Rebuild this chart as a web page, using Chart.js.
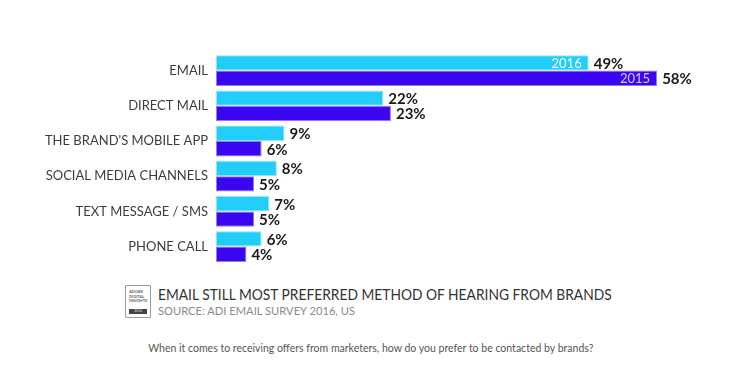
<!DOCTYPE html>
<html>
<head>
<meta charset="utf-8">
<script src="https://cdn.jsdelivr.net/npm/chart.js@4.4.1/dist/chart.umd.min.js"></script>
<style>
  html, body { margin: 0; padding: 0; background: #fff; }
  body { width: 742px; height: 385px; position: relative; overflow: hidden; font-family: Lato, "Noto Sans", sans-serif; }
  #wrap { position: absolute; left: 0; top: 0; width: 742px; height: 280px; }
  .t { position: absolute; white-space: nowrap; }
  #title { left: 158px; top: 285px; font-size: 15.5px; color: #333; transform: scaleX(0.89); transform-origin: 0 0; }
  #source { left: 158px; top: 303px; font-size: 12px; color: #8a8a8a; transform: scaleX(0.93); transform-origin: 0 0; }
  #foot { left: 0; width: 742px; text-align: center; top: 341px; font-size: 11.5px; color: #555; transform: scaleX(0.915); transform-origin: 369px 0; }
  #logo { position: absolute; left: 125px; top: 285px; width: 24px; height: 31px; border: 1px solid #9a9a9a; border-radius: 1px; background: #fff; }
  #logo .lt { position: absolute; left: 3px; top: 4px; font-size: 4px; line-height: 4.5px; color: #666; font-weight: bold; }
  #logo .band { position: absolute; left: 3px; right: 3px; bottom: 3px; height: 5px; background: #444; color: #ddd; font-size: 3.5px; line-height: 5px; text-align: center; }
</style>
</head>
<body>
<div id="wrap"><canvas id="c"></canvas></div>
<div id="logo"><div class="lt">ADOBE<br>DIGITAL<br>INSIGHTS</div><div class="band">2016</div></div>
<div class="t" id="title">EMAIL STILL MOST PREFERRED METHOD OF HEARING FROM BRANDS</div>
<div class="t" id="source">SOURCE: ADI EMAIL SURVEY 2016, US</div>
<div class="t" id="foot">When it comes to receiving offers from marketers, how do you prefer to be contacted by brands?</div>
<script>
const categories = ["EMAIL", "DIRECT MAIL", "THE BRAND'S MOBILE APP", "SOCIAL MEDIA CHANNELS", "TEXT MESSAGE / SMS", "PHONE CALL"];
const seriesNames = ["2016", "2015"];
const values2016 = [49, 22, 9, 8, 7, 6];
const values2015 = [58, 23, 6, 5, 5, 4];

const valueLabels = {
  id: 'valueLabels',
  afterDatasetsDraw(chart) {
    const ctx = chart.ctx;
    ctx.save();
    chart.data.datasets.forEach((ds, di) => {
      const meta = chart.getDatasetMeta(di);
      meta.data.forEach((bar, i) => {
        ctx.font = 'bold 15px Lato, "Noto Sans", sans-serif';
        ctx.fillStyle = '#1a1a1a';
        ctx.textAlign = 'left';
        ctx.textBaseline = 'middle';
        ctx.fillText(ds.data[i] + '%', bar.x + 5, bar.y + 1);
        if (i === 0) {
          ctx.font = '13px Lato, "Noto Sans", sans-serif';
          ctx.fillStyle = di === 0 ? '#ffffff' : '#d9ccff';
          ctx.textAlign = 'right';
          ctx.fillText(ds.label, bar.x - 7, bar.y + 1);
        }
      });
    });
    ctx.restore();
  }
};

new Chart(document.getElementById('c'), {
  type: 'bar',
  data: {
    labels: categories,
    datasets: [
      { label: seriesNames[0], data: values2016, backgroundColor: '#22cdf9', borderColor: '#8fe3fb', borderWidth: 1, borderSkipped: false },
      { label: seriesNames[1], data: values2015, backgroundColor: '#3a06f2', borderColor: '#8f7cf5', borderWidth: 1, borderSkipped: false }
    ]
  },
  options: {
    indexAxis: 'y',
    responsive: true,
    maintainAspectRatio: false,
    animation: false,
    layout: { padding: { left: 0, right: 24, top: 53, bottom: 15 } },
    datasets: { bar: { barPercentage: 1, categoryPercentage: 0.876 } },
    plugins: { legend: { display: false }, tooltip: { enabled: false } },
    scales: {
      x: { display: false, min: 0, max: 66 },
      y: {
        grid: { display: false, drawTicks: false },
        border: { display: false },
        ticks: { padding: 8, color: '#3c3c3c', font: { family: 'Lato, "Noto Sans", sans-serif', size: 13 } },
        afterFit(scale) { scale.width = 216; }
      }
    }
  },
  plugins: [valueLabels]
});
</script>
</body>
</html>
